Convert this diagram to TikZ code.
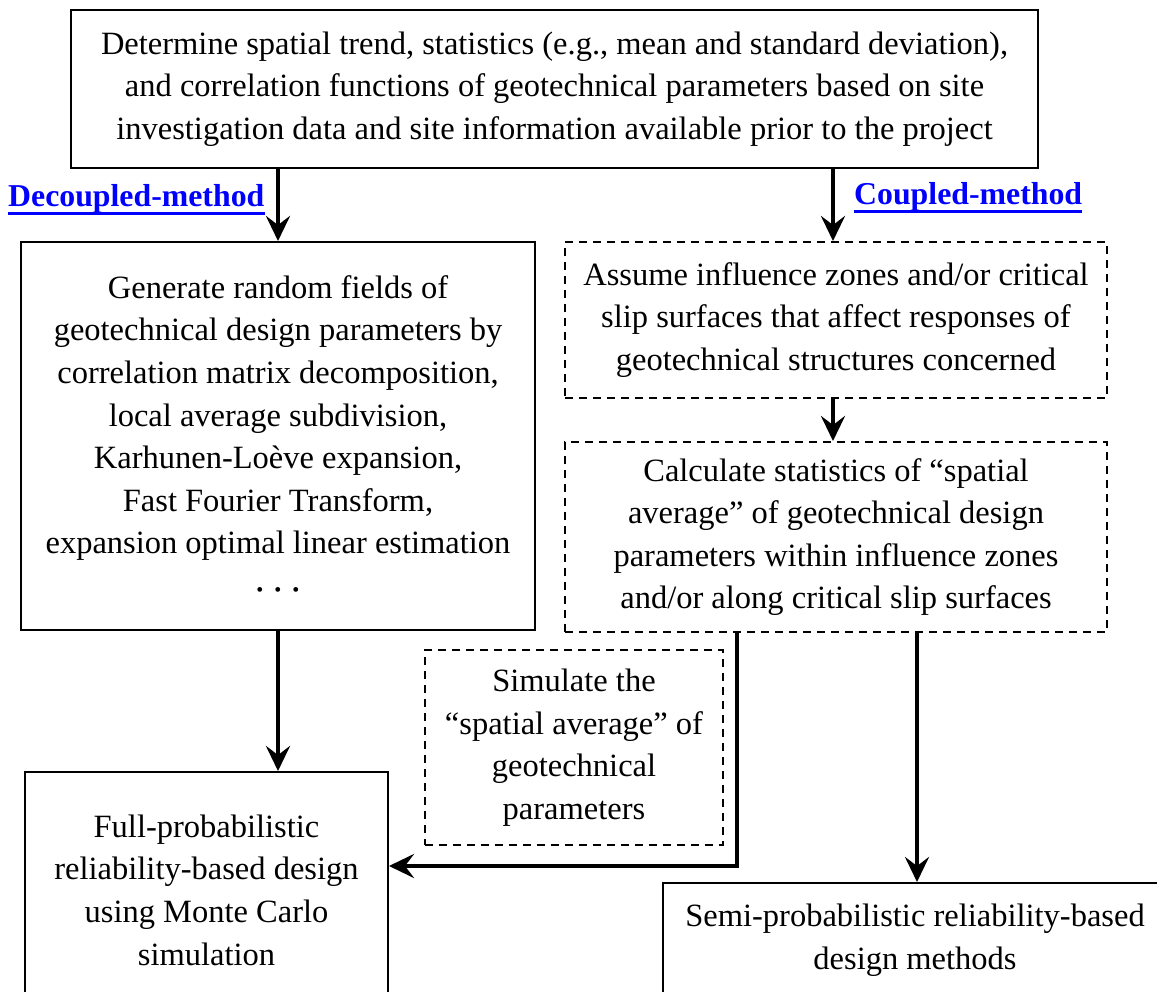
\documentclass[tikz,border=0pt]{standalone}
\usepackage{fontspec}
\setmainfont{Liberation Serif}
\usetikzlibrary{arrows.meta}
\definecolor{linkblue}{RGB}{0,0,255}
\begin{document}
\begin{tikzpicture}[x=1pt,y=-1pt,
  every node/.style={font=\fontsize{32.5}{42.6}\selectfont, align=center, inner sep=0pt},
  box/.style={draw=black, line width=2pt, minimum width=#1},
  dbox/.style={draw=black, line width=2pt, dash pattern=on 8pt off 6pt, minimum width=#1},
  arr/.style={line width=4pt, -{Stealth[length=25pt,width=24pt,inset=9pt]}},
  lab/.style={text=linkblue, font=\fontsize{31.8}{38}\selectfont\bfseries, anchor=base west},
  uline/.style={draw=linkblue, line width=3pt}
]
\useasboundingbox (0,0) rectangle (1157,992);
\begin{scope}
\clip (0,0) rectangle (1157,992);

\node[box=967pt, minimum height=158pt] (top) at (554.5,89)
  {Determine spatial trend, statistics (e.g., mean and standard deviation),\\
   and correlation functions of geotechnical parameters based on site\\
   investigation data and site information available prior to the project};

\node[box=514pt, minimum height=388pt] (dec) at (278,436)
  {Generate random fields of\\
   geotechnical design parameters by\\
   correlation matrix decomposition,\\
   local average subdivision,\\
   Karhunen-Loève expansion,\\
   Fast Fourier Transform,\\
   expansion optimal linear estimation\\
   {\fontsize{20}{24}\selectfont\textbullet\hspace{11pt}\textbullet\hspace{11pt}\textbullet}};

\node[dbox=542pt, minimum height=156pt] (cz) at (836,320)
  {Assume influence zones and/or critical\\
   slip surfaces that affect responses of\\
   geotechnical structures concerned};

\node[dbox=542pt, minimum height=190pt] (ca) at (836,537)
  {Calculate statistics of “spatial\\
   average” of geotechnical design\\
   parameters within influence zones\\
   and/or along critical slip surfaces};

\node[dbox=298pt, minimum height=195pt] (sim) at (574,747.5)
  {Simulate the\\
   “spatial average” of\\
   geotechnical\\
   parameters};

\node[box=363pt, minimum height=236pt] (full) at (206.5,890)
  {Full-probabilistic\\
   reliability-based design\\
   using Monte Carlo\\
   simulation};

\node[box=504pt, minimum height=114pt] (semi) at (915,940)
  {Semi-probabilistic reliability-based\\
   design methods};

\node[lab] (ldec) at (8,207) {Decoupled-method};
\draw[uline] ([yshift=-7pt]ldec.base west) -- ([yshift=-7pt]ldec.base east);
\node[lab] (lcou) at (854,205) {Coupled-method};
\draw[uline] ([yshift=-7pt]lcou.base west) -- ([yshift=-7pt]lcou.base east);

\draw[arr] (dec.north |- top.south) -- (dec.north);
\draw[arr] ([xshift=-3pt]cz.north |- top.south) -- ([xshift=-3pt]cz.north);
\draw[arr] ([xshift=-3pt]cz.south) -- ([xshift=-3pt]ca.north);
\draw[arr] (dec.south) -- (dec.south |- full.north);
\coordinate (bend) at (737,866);
\draw[arr] (bend |- ca.south) -- (bend) -- (bend -| full.east);
\draw[arr] ([xshift=2pt]semi.north |- ca.south) -- ([xshift=2pt]semi.north);
\end{scope}
\end{tikzpicture}
\end{document}
